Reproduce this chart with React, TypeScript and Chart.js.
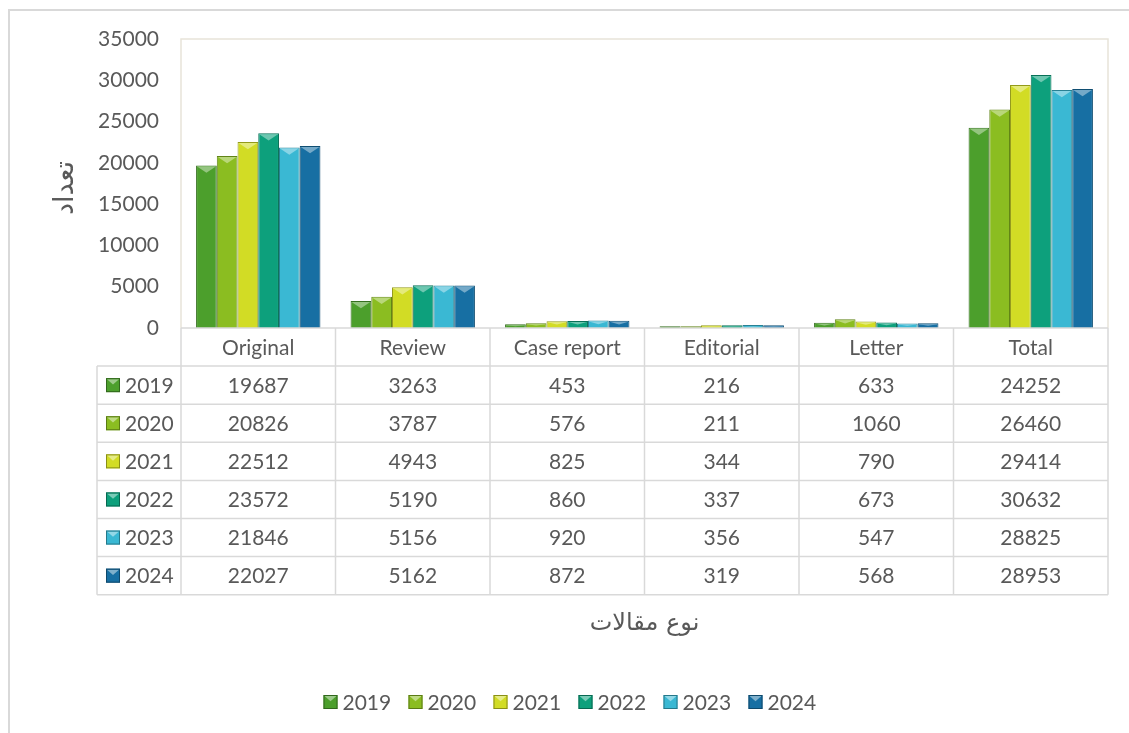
import React, { useEffect, useRef } from 'react';
import { Chart, registerables } from 'chart.js';

Chart.register(...registerables);

const categories = ['Original', 'Review', 'Case report', 'Editorial', 'Letter', 'Total'];
const years = ['2019', '2020', '2021', '2022', '2023', '2024'];
const v2019 = [19687, 3263, 453, 216, 633, 24252];
const v2020 = [20826, 3787, 576, 211, 1060, 26460];
const v2021 = [22512, 4943, 825, 344, 790, 29414];
const v2022 = [23572, 5190, 860, 337, 673, 30632];
const v2023 = [21846, 5156, 920, 356, 547, 28825];
const v2024 = [22027, 5162, 872, 319, 568, 28953];
const seriesValues = [v2019, v2020, v2021, v2022, v2023, v2024];
const seriesColors = ['#4c9f2c', '#8bbd21', '#d2dc25', '#0da07c', '#3ab8d3', '#176fa3'];
const yTitle = 'تعداد';
const xTitle = 'نوع مقالات';

const FONT = 'Lato, "Open Sans", sans-serif';
const AR_FONT = '"DejaVu Sans", sans-serif';
const TEXT = '#595959';
const FS = 21;

function mix(hex: string, target: number, amt: number) {
  const n = parseInt(hex.slice(1), 16);
  const r = (n >> 16) & 255, g = (n >> 8) & 255, b = n & 255;
  const f = (c: number) => Math.round(c + (target - c) * amt);
  return `rgb(${f(r)},${f(g)},${f(b)})`;
}
const lighten = (h: string, a: number) => mix(h, 255, a);
const darken = (h: string, a: number) => mix(h, 0, a);

function drawMarker(ctx: CanvasRenderingContext2D, x: number, y: number, s: number, color: string) {
  ctx.save();
  ctx.fillStyle = color;
  ctx.fillRect(x, y, s, s);
  ctx.fillStyle = lighten(color, 0.45);
  ctx.beginPath();
  ctx.moveTo(x + 1, y + 1);
  ctx.lineTo(x + s - 1, y + 1);
  ctx.lineTo(x + s / 2, y + s * 0.45);
  ctx.closePath();
  ctx.fill();
  ctx.strokeStyle = darken(color, 0.35);
  ctx.lineWidth = 1;
  ctx.strokeRect(x + 0.5, y + 0.5, s - 1, s - 1);
  ctx.restore();
}

const bevelPlugin = {
  id: 'bevel',
  afterDatasetsDraw(chart: any) {
    const ctx = chart.ctx as CanvasRenderingContext2D;
    chart.data.datasets.forEach((ds: any, i: number) => {
      const meta = chart.getDatasetMeta(i);
      const color = seriesColors[i];
      meta.data.forEach((bar: any) => {
        const { x, y, base, width } = bar.getProps(['x', 'y', 'base', 'width'], true);
        const h = base - y;
        if (h < 2) return;
        const l = x - width / 2 + 1, r = x + width / 2 - 1;
        const th = Math.min(width * 0.35, h / 2);
        ctx.save();
        ctx.fillStyle = lighten(color, 0.4);
        ctx.beginPath();
        ctx.moveTo(l, y + 1);
        ctx.lineTo(r, y + 1);
        ctx.lineTo(x, y + th);
        ctx.closePath();
        ctx.fill();
        ctx.restore();
      });
    });
  },
};

const framePlugin = {
  id: 'frame',
  beforeDraw(chart: any) {
    const ctx = chart.ctx as CanvasRenderingContext2D;
    ctx.save();
    ctx.fillStyle = '#ffffff';
    ctx.fillRect(0, 0, chart.width, chart.height);
    ctx.strokeStyle = '#d9d9d9';
    ctx.lineWidth = 2;
    ctx.beginPath();
    ctx.moveTo(9, chart.height);
    ctx.lineTo(9, 10);
    ctx.lineTo(chart.width, 10);
    ctx.stroke();
    const ca = chart.chartArea;
    ctx.strokeStyle = '#e8e4d9';
    ctx.lineWidth = 1.5;
    ctx.beginPath();
    ctx.moveTo(ca.left, ca.bottom);
    ctx.lineTo(ca.left, ca.top);
    ctx.lineTo(ca.right, ca.top);
    ctx.lineTo(ca.right, ca.bottom);
    ctx.stroke();
    ctx.restore();
  },
  afterDraw(chart: any) {
    const ctx = chart.ctx as CanvasRenderingContext2D;
    const ca = chart.chartArea;
    const xs = chart.scales.x;
    const n = categories.length;
    const cw = (ca.right - ca.left) / n;
    const rowH = 38.1;
    const top = ca.bottom;
    const rows = seriesValues.length;
    const bottom = top + rowH * (rows + 1);
    const legLeft = 97;
    ctx.save();
    ctx.strokeStyle = '#d9d9d9';
    ctx.lineWidth = 1.5;
    ctx.beginPath();
    for (let i = 0; i <= n; i++) {
      const x = ca.left + i * cw;
      ctx.moveTo(x, top);
      ctx.lineTo(x, bottom);
    }
    ctx.moveTo(legLeft, top + rowH);
    ctx.lineTo(legLeft, bottom);
    ctx.moveTo(ca.left, top);
    ctx.lineTo(ca.right, top);
    for (let r = 1; r <= rows + 1; r++) {
      const y = top + r * rowH;
      ctx.moveTo(legLeft, y);
      ctx.lineTo(ca.right, y);
    }
    ctx.stroke();

    ctx.fillStyle = TEXT;
    ctx.font = `${FS}px ${FONT}`;
    ctx.textBaseline = 'middle';
    ctx.textAlign = 'center';
    categories.forEach((c, i) => ctx.fillText(c, xs.getPixelForValue(i), top + rowH / 2 + 1));
    seriesValues.forEach((vals, r) => {
      const cy = top + rowH * (r + 1) + rowH / 2;
      drawMarker(ctx, 106, cy - 7, 14, seriesColors[r]);
      ctx.fillStyle = TEXT;
      ctx.textAlign = 'left';
      ctx.fillText(years[r], 125, cy + 1);
      ctx.textAlign = 'center';
      vals.forEach((v, i) => ctx.fillText(String(v), xs.getPixelForValue(i), cy + 1));
    });

    ctx.font = `24px ${AR_FONT}`;
    ctx.fillStyle = TEXT;
    ctx.textAlign = 'center';
    ctx.fillText(xTitle, (ca.left + ca.right) / 2, 624);
    ctx.save();
    ctx.translate(66, 188);
    ctx.rotate(-Math.PI / 2);
    ctx.font = `27px ${AR_FONT}`;
    ctx.fillText(yTitle, 0, 0);
    ctx.restore();

    ctx.font = `${FS}px ${FONT}`;
    ctx.textAlign = 'left';
    years.forEach((yr, i) => {
      const x = 323.5 + i * 85;
      drawMarker(ctx, x, 695, 14, seriesColors[i]);
      ctx.fillStyle = TEXT;
      ctx.fillText(yr, x + 19, 703);
    });
    ctx.restore();
  },
};

export default function App() {
  const ref = useRef<HTMLCanvasElement | null>(null);
  useEffect(() => {
    if (!ref.current) return;
    const chart = new Chart(ref.current, {
      type: 'bar',
      data: {
        labels: categories,
        datasets: seriesValues.map((vals, i) => ({
          label: years[i],
          data: vals,
          backgroundColor: seriesColors[i],
          borderColor: darken(seriesColors[i], 0.3),
          borderWidth: 1,
          categoryPercentage: 0.805,
          barPercentage: 1,
        })),
      },
      options: {
        animation: false,
        responsive: false,
        devicePixelRatio: 1,
        layout: { padding: { left: 0, top: 39, right: 21, bottom: 733 - 328 } },
        plugins: { legend: { display: false }, tooltip: { enabled: false } },
        scales: {
          x: { display: false },
          y: {
            min: 0,
            max: 35000,
            ticks: {
              stepSize: 5000,
              color: TEXT,
              font: { family: FONT, size: FS },
              padding: 22,
              callback: (v: any) => String(v),
            },
            grid: { display: false, drawTicks: false },
            border: { display: false },
            afterFit: (s: any) => { s.width = 181; },
          },
        },
      },
      plugins: [framePlugin, bevelPlugin],
    });
    return () => chart.destroy();
  }, []);
  return (
    <div style={{ position: 'fixed', left: 0, top: 0, width: 1129, height: 733, background: '#fff' }}>
      <canvas ref={ref} width={1129} height={733} style={{ display: 'block', width: 1129, height: 733 }} />
    </div>
  );
}
